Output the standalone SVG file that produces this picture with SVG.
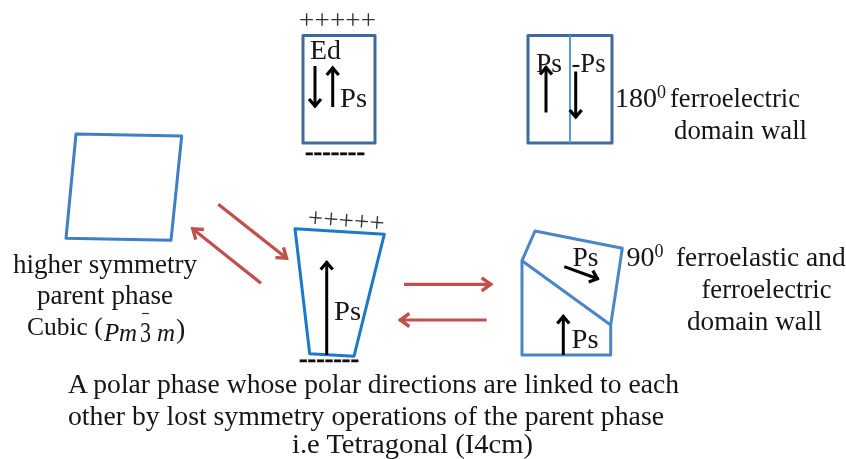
<svg xmlns="http://www.w3.org/2000/svg" width="846" height="459" viewBox="0 0 846 459">
<style>
text{font-family:"Liberation Serif","Times New Roman",serif;font-size:28px;fill:#141414}
.s{font-size:18px}
.i{font-size:25px;font-style:italic}
.sym{font-size:27px;fill:#333}
.dash{font-size:26px;font-weight:bold;fill:#111;stroke:#111;stroke-width:.5}
.b{fill:none;stroke-width:3;stroke-linejoin:round}
.navy{stroke:#41699d}
.sky{stroke:#4a86c8}
.pa{fill:none;stroke:#000;stroke-width:3;marker-end:url(#k)}
.ra{fill:none;stroke:#c0504d;stroke-width:3.2;marker-end:url(#r)}
</style>
<defs>
<filter id="soft" x="-5%" y="-5%" width="110%" height="110%"><feGaussianBlur stdDeviation="0.45"/></filter>
<marker id="k" markerUnits="userSpaceOnUse" markerWidth="20" markerHeight="20" refX="14" refY="10" orient="auto"><path d="M6 4 L13 10 L6 16" fill="none" stroke="#000" stroke-width="3.2"/></marker>
<marker id="r" markerUnits="userSpaceOnUse" markerWidth="22" markerHeight="22" refX="16" refY="11" orient="auto"><path d="M6 4.5 L15 11 L6 17.5" fill="none" stroke="#c0504d" stroke-width="3.4"/></marker>
</defs>
<rect width="846" height="459" fill="#fff"/>
<g filter="url(#soft)">
<g id="node-cubic">
<polygon class="b" style="stroke:#3f7fc6" points="76,134 181.7,136 171,240.3 66,238.3"/>
<text x="13" y="272.5" textLength="184" lengthAdjust="spacingAndGlyphs">higher symmetry</text>
<text x="37" y="304" textLength="136" lengthAdjust="spacingAndGlyphs">parent phase</text>
<text x="27" y="335" style="font-size:25.5px">Cubic (</text>
<text class="i" x="104" y="341">P</text>
<text class="i" x="119" y="341">m</text>
<text x="140" y="342" style="font-size:30px" textLength="11" lengthAdjust="spacingAndGlyphs">3</text>
<path d="M142 313.5H149" stroke="#333" stroke-width="1.2"/>
<text class="i" x="157" y="341">m</text>
<text x="176" y="338">)</text>
</g>
<g id="node-ed">
<rect class="b navy" x="303" y="35.5" width="72" height="107.5"/>
<text class="sym" x="299" y="29" textLength="77">+++++</text>
<text x="310" y="59" textLength="31" lengthAdjust="spacingAndGlyphs">Ed</text>
<text x="340" y="107" textLength="27" lengthAdjust="spacingAndGlyphs">Ps</text>
<text class="dash" x="305" y="159.5" textLength="60" lengthAdjust="spacingAndGlyphs">-------</text>
<path class="pa" d="M315 66V107"/>
<path class="pa" d="M332.7 107V67"/>
</g>
<g id="node-180">
<rect class="b navy" x="528" y="35.5" width="84" height="107.5"/>
<path d="M570 35.5V143" fill="none" stroke="#5b9bd5" stroke-width="2"/>
<text x="536" y="71.5" textLength="26" lengthAdjust="spacingAndGlyphs">Ps</text>
<text x="571.5" y="71.5" textLength="34" lengthAdjust="spacingAndGlyphs">-Ps</text>
<path class="pa" d="M546 112.5V66.5"/>
<path class="pa" d="M575.7 71.5V118"/>
<text x="615" y="107">180<tspan class="s" dy="-9">0</tspan></text>
<text x="670" y="107" textLength="130" lengthAdjust="spacingAndGlyphs">ferroelectric</text>
<text x="674" y="139" textLength="133" lengthAdjust="spacingAndGlyphs">domain wall</text>
</g>
<g id="node-polar">
<polygon class="b" style="stroke:#1f78c8" points="295,228.7 384.3,234.3 354,356.3 309.7,353.7"/>
<text class="sym" transform="translate(308 217) rotate(4.5)" x="0" y="9" textLength="77">+++++</text>
<path class="pa" d="M326.7 355V261.5"/>
<text x="334" y="320" textLength="27" lengthAdjust="spacingAndGlyphs">Ps</text>
<text class="dash" x="299" y="367" textLength="60" lengthAdjust="spacingAndGlyphs">-------</text>
<text x="68" y="393" textLength="611" lengthAdjust="spacingAndGlyphs">A polar phase whose polar directions are linked to each</text>
<text x="68" y="424.5" textLength="596" lengthAdjust="spacingAndGlyphs">other by lost symmetry operations of the parent phase</text>
<text x="292" y="453" textLength="241" lengthAdjust="spacingAndGlyphs">i.e Tetragonal (I4cm)</text>
</g>
<g id="node-90">
<path class="b sky" d="M522 260.7 535 231 622.3 248.3 610.7 325V355H522Z M522 260.7 610.7 325"/>
<text x="572.5" y="265.5" textLength="26" lengthAdjust="spacingAndGlyphs">Ps</text>
<path class="pa" d="M564.3 266.7 598.3 279"/>
<text x="571.5" y="348" textLength="27" lengthAdjust="spacingAndGlyphs">Ps</text>
<path class="pa" d="M563.3 355V315.5"/>
<text x="626.5" y="265.5">90<tspan class="s" dy="-9">0</tspan></text>
<text x="676" y="265.5" style="font-size:27.4px">ferroelastic and</text>
<text x="701.5" y="297.5" textLength="130" lengthAdjust="spacingAndGlyphs">ferroelectric</text>
<text x="687" y="329.5" textLength="135" lengthAdjust="spacingAndGlyphs">domain wall</text>
</g>
<g id="connectors">
<path class="ra" d="M218.3 204.3 287.3 258.7"/>
<path class="ra" d="M261 283.3 192 228.3"/>
<path class="ra" d="M404 284.3H491.7"/>
<path class="ra" d="M486.7 320H399.3"/>
</g>
</g>
</svg>
